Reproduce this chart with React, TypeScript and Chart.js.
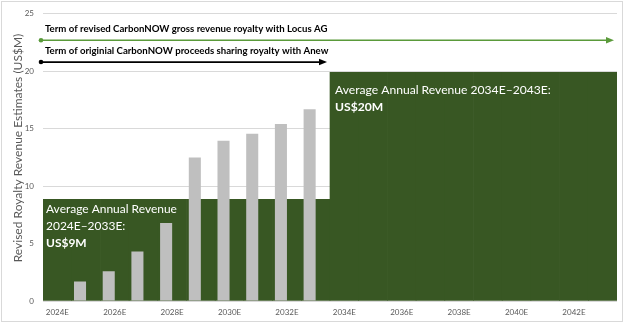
import React, { useEffect, useRef } from "react";
import { Chart, registerables } from "chart.js";

Chart.register(...registerables);

const categories = [
  "2024E", "2025E", "2026E", "2027E", "2028E", "2029E", "2030E", "2031E", "2032E", "2033E",
  "2034E", "2035E", "2036E", "2037E", "2038E", "2039E", "2040E", "2041E", "2042E", "2043E",
];
const revenueEstimates: (number | null)[] = [
  0, 1.7, 2.6, 4.3, 6.8, 12.5, 13.95, 14.55, 15.4, 16.7,
  null, null, null, null, null, null, null, null, null, null,
];
const averageRevenue = [
  8.85, 8.85, 8.85, 8.85, 8.85, 8.85, 8.85, 8.85, 8.85, 8.85,
  19.9, 19.9, 19.9, 19.9, 19.9, 19.9, 19.9, 19.9, 19.9, 19.9,
];
const emptySeries: (number | null)[] = categories.map(() => null);

const yMax = 25;
const yStep = 5;

const termLabels = [
  "Term of revised CarbonNOW gross revenue royalty with Locus AG",
  "Term of originial CarbonNOW proceeds sharing royalty with Anew",
];
const termEndIndex = [19, 9];
const termLineValue = [22.7, 20.8];
const termTextValue = [23.7, 21.8];

const leftBoxLines = ["Average Annual Revenue", "2024E\u20132033E:", "US$9M"];
const rightBoxLines = ["Average Annual Revenue 2034E\u20132043E:", "US$20M"];
const yTitle = "Revised Royalty Revenue Estimates (US$M)";

const FONT = "Lato, 'Open Sans', 'Noto Sans', sans-serif";
const GREEN = "#385723";
const GRAY = "#BFBFBF";
const ARROW_GREEN = "#5A9A3A";
const AXIS_TEXT = "#595959";

function fitSize(ctx: CanvasRenderingContext2D, text: string, weight: string, target: number) {
  ctx.font = `${weight} 100px ${FONT}`;
  const w = ctx.measureText(text).width;
  return (100 * target) / w;
}

function arrow(ctx: CanvasRenderingContext2D, x0: number, x1: number, y: number, color: string, lw: number) {
  ctx.save();
  ctx.strokeStyle = color;
  ctx.fillStyle = color;
  ctx.lineWidth = lw;
  ctx.beginPath();
  ctx.moveTo(x0, y);
  ctx.lineTo(x1 - 6, y);
  ctx.stroke();
  ctx.beginPath();
  ctx.moveTo(x1, y);
  ctx.lineTo(x1 - 8, y - 3.2);
  ctx.lineTo(x1 - 8, y + 3.2);
  ctx.closePath();
  ctx.fill();
  ctx.beginPath();
  ctx.arc(x0, y, 2.3, 0, Math.PI * 2);
  ctx.fill();
  ctx.restore();
}

const annotations = {
  id: "annotations",
  beforeDraw(chart: any) {
    const { ctx, width, height } = chart;
    ctx.save();
    ctx.fillStyle = "#ffffff";
    ctx.fillRect(0, 0, width, height);
    ctx.strokeStyle = "#D9D9D9";
    ctx.lineWidth = 1;
    ctx.strokeRect(1.5, 1.5, width - 3, height - 3);
    ctx.restore();
  },
  afterDatasetsDraw(chart: any) {
    const { ctx, scales } = chart;
    const x = scales.x;
    const y = scales.y;
    const half = (x.getPixelForValue(1) - x.getPixelForValue(0)) / 2;
    const start = x.getPixelForValue(0) - half - 2;
    ctx.save();
    ctx.textBaseline = "middle";
    ctx.textAlign = "left";

    // term labels and arrows
    const colors = [ARROW_GREEN, "#000000"];
    const termSize = fitSize(ctx, termLabels[0], "bold", 283);
    termLabels.forEach((t, i) => {
      ctx.font = `bold ${termSize}px ${FONT}`;
      ctx.fillStyle = "#000000";
      ctx.fillText(t, start + 4, y.getPixelForValue(termTextValue[i]));
      const end = x.getPixelForValue(termEndIndex[i]) + half - 3;
      arrow(ctx, start, end, y.getPixelForValue(termLineValue[i]), colors[i], i === 0 ? 1.6 : 1.8);
    });

    // left box text
    const lTop = y.getPixelForValue(averageRevenue[0]);
    const lSize = fitSize(ctx, leftBoxLines[0], "normal", 131);
    ctx.fillStyle = "#ffffff";
    const lOff = [9.5, 26.5, 44];
    leftBoxLines.forEach((t, i) => {
      ctx.font = `${i === 2 ? "bold" : "normal"} ${lSize}px ${FONT}`;
      ctx.fillText(t, start + 5, lTop + lOff[i]);
    });

    // right box text
    const rTop = y.getPixelForValue(averageRevenue[10]);
    const rLeft = x.getPixelForValue(10) - half;
    const rSize = fitSize(ctx, rightBoxLines[0], "normal", 216);
    const rOff = [18, 35];
    rightBoxLines.forEach((t, i) => {
      ctx.font = `${i === 1 ? "bold" : "normal"} ${rSize}px ${FONT}`;
      ctx.fillText(t, rLeft + 5, rTop + rOff[i]);
    });

    // y-axis title
    const tSize = fitSize(ctx, yTitle, "normal", 229);
    ctx.font = `normal ${tSize}px ${FONT}`;
    ctx.fillStyle = AXIS_TEXT;
    ctx.translate(18, 148);
    ctx.rotate(-Math.PI / 2);
    ctx.textAlign = "center";
    ctx.fillText(yTitle, 0, 0);
    ctx.restore();
  },
};

export default function App() {
  const ref = useRef<HTMLCanvasElement | null>(null);
  useEffect(() => {
    document.body.style.margin = "0";
    if (!ref.current) return;
    const chart = new Chart(ref.current, {
      type: "bar",
      data: {
        labels: categories,
        datasets: [
          {
            label: "Revenue estimates",
            data: revenueEstimates,
            backgroundColor: GRAY,
            borderWidth: 0,
            order: 1,
            categoryPercentage: 0.84,
            barPercentage: 1,
          } as any,
          {
            label: "spacer",
            data: emptySeries,
            backgroundColor: "rgba(0,0,0,0)",
            order: 2,
            categoryPercentage: 0.84,
            barPercentage: 1,
          } as any,
          {
            label: "Average annual revenue",
            data: averageRevenue,
            backgroundColor: GREEN,
            borderWidth: 0,
            grouped: false,
            order: 3,
            categoryPercentage: 1,
            barPercentage: 1,
          } as any,
        ],
      },
      options: {
        responsive: false,
        animation: false,
        layout: { padding: { top: 9, right: 7, left: 0, bottom: 0 } },
        plugins: { legend: { display: false }, tooltip: { enabled: false } },
        scales: {
          x: {
            grid: { display: false, drawTicks: false },
            border: { display: false },
            ticks: {
              autoSkip: false,
              maxRotation: 0,
              minRotation: 0,
              padding: 7,
              color: AXIS_TEXT,
              font: { family: FONT, size: 8 },
              callback: (_v: any, i: number) => (i % 2 === 0 ? categories[i] : ""),
            },
            afterFit: (s: any) => {
              s.height = 22;
            },
          },
          y: {
            min: 0,
            max: yMax,
            grid: { color: "#D9D9D9", drawTicks: false },
            border: { display: false },
            ticks: {
              stepSize: yStep,
              padding: 9,
              color: AXIS_TEXT,
              font: { family: FONT, size: 8 },
            },
            afterFit: (s: any) => {
              s.width = 43;
            },
          },
        },
      },
      plugins: [annotations],
    });
    return () => chart.destroy();
  }, []);
  return (
    <div style={{ width: 624, height: 323 }}>
      <canvas ref={ref} width={624} height={323} style={{ display: "block" }} />
    </div>
  );
}
